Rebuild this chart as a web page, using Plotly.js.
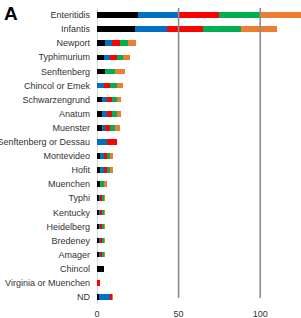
<!DOCTYPE html>
<html>
<head>
<meta charset="utf-8">
<script src="https://cdn.plot.ly/plotly-3.0.1.min.js"></script>
<style>html,body{margin:0;padding:0;background:#fff;}#chart{width:301px;height:318px;}</style>
</head>
<body>
<div id="chart"></div>
<script>
const categories = ["Enteritidis","Infantis","Newport","Typhimurium","Senftenberg","Chincol or Emek","Schwarzengrund","Anatum","Muenster","Senftenberg or Dessau","Montevideo","Hofit","Muenchen","Typhi","Kentucky","Heidelberg","Bredeney","Amager","Chincol","Virginia or Muenchen","ND"];
const seriesNames = ["Series 1","Series 2","Series 3","Series 4","Series 5"];
const seriesColors = ["#000000","#0070C0","#FF0000","#00B050","#ED7D31"];
const s1 = [25,23,5,4,5,0,3,3,3,0,2,2,2,1,1,1,1,1,4,0,1];
const s2 = [25,20,4,4,0,4,3,3,2,6,2,2,0,1,1,1,1,1,0,0,7];
const s3 = [25,22,5,4,0,4,3,3,3,6,2,2,0,1,1,1,1,1,0,2,1];
const s4 = [25,23,5,4,6,4,3,3,3,0,2,2,2,1,1,1,1,1,0,0,0];
const s5 = [25,22,5,4,6,4,3,3,3,0,2,2,2,1,1,1,1,1,0,0,1];
const seriesValues = [s1,s2,s3,s4,s5];
const tickVals = [0,50,100];
const tickText = ["0","50","100"];

const data = seriesValues.map((vals,i)=>({
  type:"bar", orientation:"h", name:seriesNames[i],
  x: vals, y: categories,
  marker:{color:seriesColors[i]},
  hoverinfo:"x+y+name"
}));

const gridShapes = tickVals.filter(v=>v!==0).map(v=>({
  type:"line", xref:"x", yref:"paper", x0:v, x1:v, y0:0.02, y1:1,
  line:{color:"#8c8c8c", width:1.6}, layer:"above"
}));

const layout = {
  width:301, height:318,
  margin:{l:97, r:0, t:8, b:14},
  barmode:"stack", bargap:0.6,
  showlegend:false,
  paper_bgcolor:"#fff", plot_bgcolor:"#fff",
  font:{family:"Liberation Sans, Arial, sans-serif", size:9, color:"#333333"},
  xaxis:{range:[0,125], tickvals:tickVals, ticktext:tickText, showgrid:false,
         zeroline:true, zerolinecolor:"#d9d9d9", zerolinewidth:1, showline:false,
         ticks:"", ticklabelstandoff:3, tickfont:{size:9, color:"#333333"}, fixedrange:true},
  yaxis:{autorange:"reversed", type:"category", showgrid:false, zeroline:false, showline:false,
         ticks:"", ticklabelstandoff:6, tickfont:{size:9, color:"#333333"}, fixedrange:true},
  shapes:gridShapes,
  annotations:[{text:"<b>A</b>", xref:"paper", yref:"paper", x:-0.465, y:1.025, xanchor:"left", yanchor:"top",
    showarrow:false, font:{size:19, color:"#000", family:"Liberation Sans, Arial, sans-serif"}}]
};
Plotly.newPlot("chart", data, layout, {displayModeBar:false, staticPlot:true});
</script>
</body>
</html>
